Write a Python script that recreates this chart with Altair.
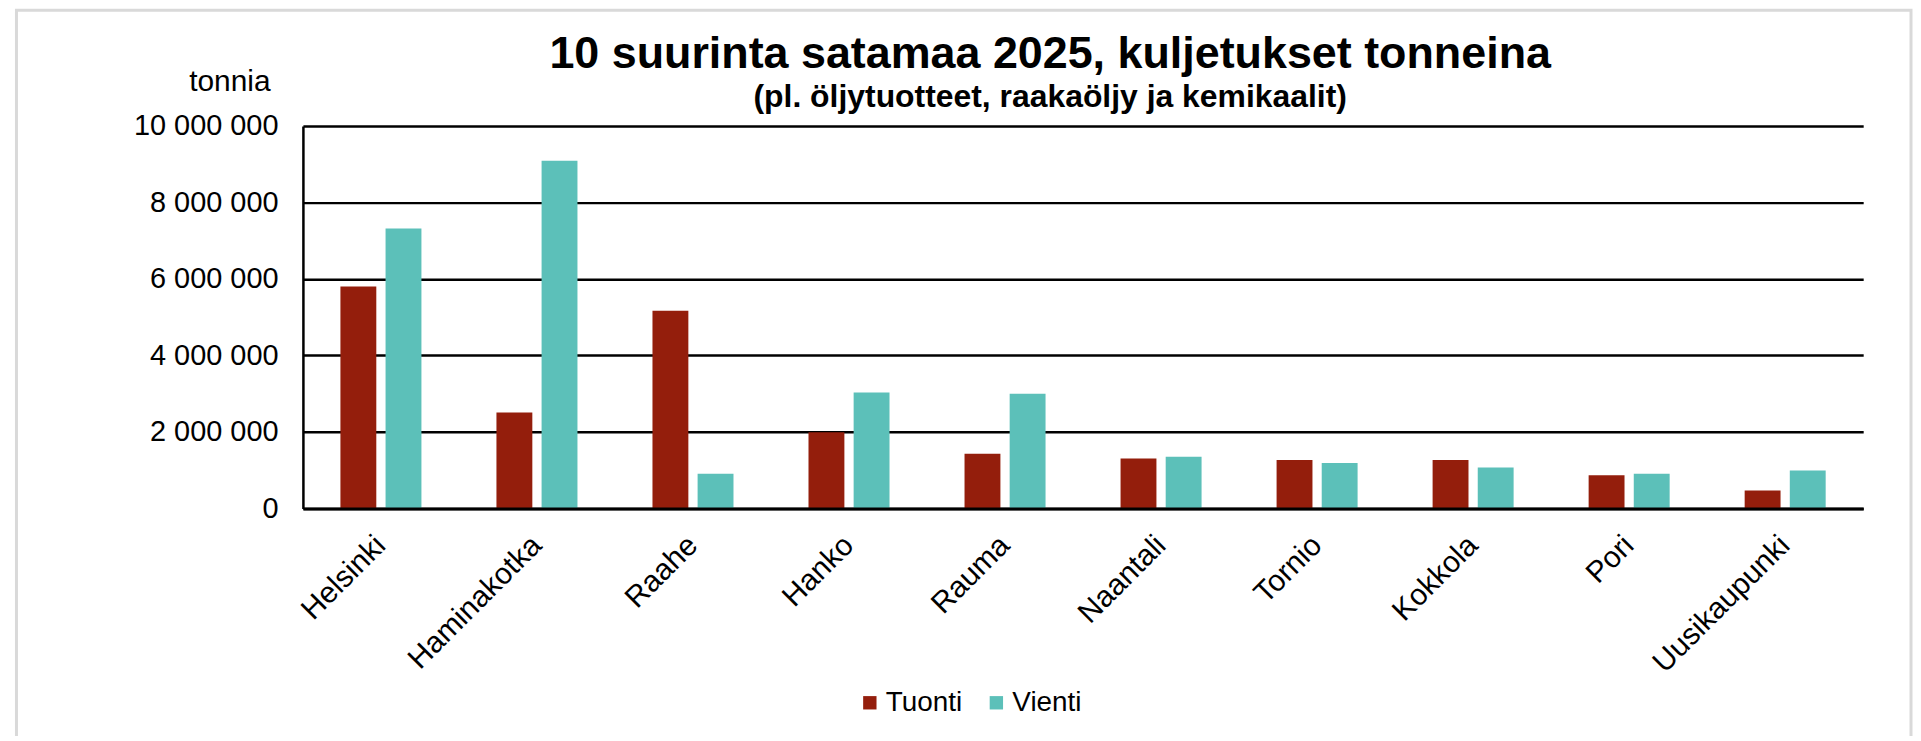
import altair as alt
import pandas as pd

ports = ["Helsinki", "Haminakotka", "Raahe", "Hanko", "Rauma",
         "Naantali", "Tornio", "Kokkola", "Pori", "Uusikaupunki"]
tuonti = [5800000, 2510000, 5170000, 1990000, 1430000,
          1310000, 1270000, 1270000, 870000, 470000]
vienti = [7320000, 9090000, 910000, 3030000, 3000000,
          1350000, 1190000, 1070000, 910000, 990000]
series = ["Tuonti", "Vienti"]
colors = ["#941E0C", "#5CC0B9"]
y_ticks = [0, 2000000, 4000000, 6000000, 8000000, 10000000]

rows = []
for i, p in enumerate(ports):
    rows.append({"Satama": p, "Suunta": series[0], "Tonnia": tuonti[i]})
    rows.append({"Satama": p, "Suunta": series[1], "Tonnia": vienti[i]})
df = pd.DataFrame(rows)

FONT = "Liberation Sans"
W, H = 1566, 384

bars = alt.Chart(df).mark_bar().encode(
    x=alt.X("Satama:N", sort=ports,
            scale=alt.Scale(paddingInner=0, paddingOuter=0),
            axis=alt.Axis(title=None, labelAngle=-45, labelAlign="right",
                          labelBaseline="middle", labelPadding=32, ticks=False,
                          domain=True, domainColor="black", domainWidth=3,
                          labelFont=FONT, labelFontSize=30, labelColor="black",
                          labelLimit=500, grid=False, zindex=1)),
    xOffset=alt.XOffset("Suunta:N", sort=series,
                        scale=alt.Scale(paddingInner=0.205, paddingOuter=0.831)),
    y=alt.Y("Tonnia:Q",
            scale=alt.Scale(domain=[0, 10000000], nice=False),
            axis=alt.Axis(values=y_ticks,
                          labelExpr="replace(format(datum.value, ','), /,/g, ' ')",
                          title="tonnia", titleAngle=0, titleX=-33, titleY=-36,
                          titleAlign="right", titleBaseline="alphabetic",
                          titleFont=FONT, titleFontSize=30, titleFontWeight="normal",
                          titleColor="black",
                          grid=True, gridColor="black", gridWidth=2.5,
                          ticks=False, domain=True, domainColor="black",
                          domainWidth=2.5, labelPadding=25, labelFont=FONT,
                          labelFontSize=29, labelColor="black")),
    color=alt.Color("Suunta:N", scale=alt.Scale(domain=series, range=colors),
                    legend=alt.Legend(title=None, orient="none", legendX=555,
                                      legendY=565, direction="horizontal",
                                      symbolType="square", symbolSize=180,
                                      symbolStrokeWidth=0, labelFont=FONT,
                                      labelFontSize=28, labelColor="black",
                                      labelOffset=2, columnPadding=20)),
)

frame = alt.Chart(pd.DataFrame({"f": [0]})).mark_rect(
    filled=False, stroke="#d9d9d9", strokeWidth=3
).encode(x=alt.value(-287.5), x2=alt.value(1614), y=alt.value(-116), y2=alt.value(700))

chart = alt.layer(bars, frame).properties(
    width=W, height=H,
    title=alt.TitleParams(
        text="10 suurinta satamaa 2025, kuljetukset tonneina",
        subtitle="(pl. öljytuotteet, raakaöljy ja kemikaalit)",
        anchor="middle", frame="group", dx=-33, dy=109, offset=4,
        font=FONT, fontSize=45, fontWeight="bold", color="black",
        subtitleFont=FONT, subtitleFontSize=32, subtitleFontWeight="bold",
        subtitleColor="black", subtitlePadding=6),
    autosize=alt.AutoSizeParams(type="none"),
    padding={"left": 296, "top": 117, "right": 50, "bottom": 227},
).configure_view(strokeWidth=0)

chart.save("out.html", embed_options={"renderer": "svg", "actions": False})
